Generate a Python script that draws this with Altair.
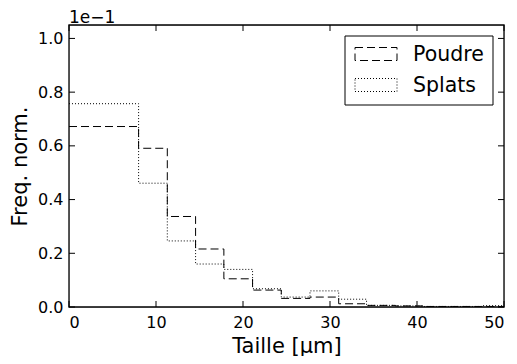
import altair as alt
import pandas as pd

# Bin left edges (last value is the final right edge)
edges = [0.0, 8.0, 11.3, 14.55, 17.8, 21.1, 24.4, 27.7, 31.0, 34.2, 37.5, 40.8, 44.1, 47.4, 50.7]
poudre = [0.672, 0.591, 0.337, 0.216, 0.105, 0.063, 0.032, 0.037, 0.012, 0.006, 0.004, 0.002, 0.002, 0.002]
splats = [0.757, 0.461, 0.246, 0.160, 0.140, 0.068, 0.037, 0.060, 0.029, 0.006, 0.004, 0.002, 0.002, 0.005]
series = ["Poudre", "Splats"]
x_ticks = [0, 10, 20, 30, 40, 50]
y_ticks = [0.0, 0.2, 0.4, 0.6, 0.8, 1.0]

dashes = [[8, 4], [1, 2]]

rows = []
for name, vals in zip(series, [poudre, splats]):
    for i, e in enumerate(edges):
        v = vals[i] if i < len(vals) else vals[-1]
        rows.append({"x": e, "y": v, "s": name})
df = pd.DataFrame(rows)

W, H = 435, 282
FONT = "DejaVu Sans"
xscale = alt.Scale(domain=[0, 50], nice=False, zero=False)
yscale = alt.Scale(domain=[0, 1.05], nice=False)

lines = alt.Chart(df).mark_line(interpolate="step-after", color="black", strokeWidth=1, clip=True).encode(
    x=alt.X("x:Q", scale=xscale,
            axis=alt.Axis(values=x_ticks, title="Taille [μm]", tickSize=0, domain=False, grid=False,
                          labelFontSize=16, labelPadding=7, titleFontSize=21, titleFont=FONT,
                          titleFontWeight="normal", titlePadding=5, labelFont=FONT, labelColor="black",
                          titleColor="black")),
    y=alt.Y("y:Q", scale=yscale,
            axis=alt.Axis(values=y_ticks, format=".1f", title="Freq. norm.", tickSize=0, domain=False,
                          grid=False, labelFontSize=16, labelPadding=6, titleFontSize=21, titleFont=FONT,
                          titleFontWeight="normal", titlePadding=7, labelFont=FONT, labelColor="black",
                          titleColor="black")),
    strokeDash=alt.StrokeDash("s:N", scale=alt.Scale(domain=series, range=dashes), legend=None),
)

xt = pd.DataFrame({"v": x_ticks})
yt = pd.DataFrame({"v": y_ticks})
tl = 6
xb = alt.Chart(xt).mark_rule(color="black", strokeWidth=1).encode(
    x=alt.X("v:Q", scale=xscale), y=alt.value(H), y2=alt.value(H - tl))
xtop = alt.Chart(xt).mark_rule(color="black", strokeWidth=1).encode(
    x=alt.X("v:Q", scale=xscale), y=alt.value(0), y2=alt.value(tl))
yl = alt.Chart(yt).mark_rule(color="black", strokeWidth=1).encode(
    y=alt.Y("v:Q", scale=yscale), x=alt.value(0), x2=alt.value(tl))
yr = alt.Chart(yt).mark_rule(color="black", strokeWidth=1).encode(
    y=alt.Y("v:Q", scale=yscale), x=alt.value(W), x2=alt.value(W - tl))

frame = alt.Chart(pd.DataFrame({"f": [1]})).mark_rect(
    fill="transparent", stroke="black", strokeWidth=1.3).encode(
    x=alt.value(0), x2=alt.value(W), y=alt.value(0), y2=alt.value(H))

offset_txt = alt.Chart(pd.DataFrame({"t": ["1e\u22121"]})).mark_text(
    align="left", baseline="alphabetic", fontSize=17, font=FONT, color="black").encode(
    text="t:N", x=alt.value(0), y=alt.value(-2))

# Manual legend (matplotlib-style box with dashed patches)
LX0, LX1, LY0, LY1 = 276, 424, 11, 80
legend_layers = [
    alt.Chart(pd.DataFrame({"f": [1]})).mark_rect(fill="white", stroke="black", strokeWidth=1).encode(
        x=alt.value(LX0), x2=alt.value(LX1), y=alt.value(LY0), y2=alt.value(LY1))
]
row_centers = [29, 60]
for name, dash, cy in zip(series, dashes, row_centers):
    ldf = pd.DataFrame({"s": [name]})
    legend_layers.append(
        alt.Chart(ldf).mark_rect(fill="transparent", stroke="black", strokeWidth=1, strokeDash=dash).encode(
            x=alt.value(286), x2=alt.value(328), y=alt.value(cy - 6.5), y2=alt.value(cy + 6.5)))
    legend_layers.append(
        alt.Chart(ldf).mark_text(align="left", baseline="middle", fontSize=20.5, font=FONT, color="black").encode(
            text="s:N", x=alt.value(344), y=alt.value(cy + 1)))

chart = alt.layer(lines, xb, xtop, yl, yr, frame, offset_txt, *legend_layers).properties(
    width=W, height=H,
    autosize=alt.AutoSizeParams(type="none"),
    padding={"left": 61, "top": 17, "right": 5, "bottom": 49},
).configure_view(stroke=None).configure(background="white")

chart.save("out.html", embed_options={"renderer": "svg", "actions": False})
